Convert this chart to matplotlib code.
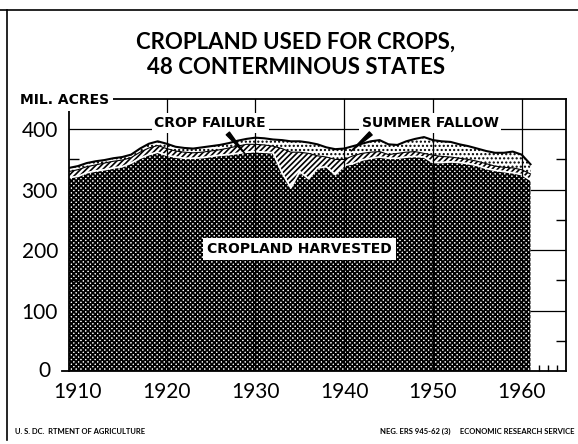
import matplotlib
matplotlib.use("Agg")
import matplotlib.pyplot as plt
from matplotlib.lines import Line2D
from matplotlib.ticker import FixedLocator

# ---------------- data (million acres) ----------------
years = list(range(1909, 1962))
harvested = [320, 322, 328, 331, 333, 336, 338, 344, 352, 358,
             362, 357, 354, 352, 352, 353, 355, 357, 358, 360,
             362, 363, 362, 361, 328, 303, 330, 318, 336, 338,
             325, 340, 343, 349, 352, 354, 352, 352, 354, 355,
             354, 345, 345, 346, 345, 343, 340, 335, 332, 330,
             328, 325, 316]
failure = [10, 11, 10, 10, 11, 11, 11, 9, 10, 11,
           11, 11, 10, 10, 9, 9, 9, 9, 11, 12,
           13, 12, 12, 11, 40, 59, 32, 42, 20, 16,
           25, 10, 13, 11, 10, 9, 6, 8, 8, 8,
           6, 12, 10, 8, 7, 7, 7, 8, 7, 7,
           8, 8, 10]
fallow = [6, 6, 6, 6, 5, 5, 5, 5, 6, 7,
          7, 8, 7, 7, 7, 8, 8, 8, 8, 9,
          9, 11, 11, 11, 14, 18, 18, 18, 19, 16,
          17, 18, 16, 16, 18, 19, 17, 14, 18, 21,
          27, 25, 25, 25, 23, 22, 21, 21, 22, 24,
          27, 25, 16]

y_ticks = [100, 200, 300, 400]
x_ticks = [1910, 1920, 1930, 1940, 1950, 1960]
x_tick_labels = ["1910", "1920", "1930", "1940", "1950", "1960"]
grid_years = [1920, 1930, 1940, 1950, 1960]

top_fail = [h + f for h, f in zip(harvested, failure)]
total = [a + s for a, s in zip(top_fail, fallow)]

# ---------------- figure ----------------
plt.rcParams["font.family"] = ["Lato", "DejaVu Sans"]
LBL = ["DejaVu Sans"]

W, H = 578, 444
fig = plt.figure(figsize=(W / 100, H / 100), dpi=100)
ax = fig.add_axes([69 / W, 1 - 371 / H, (566 - 69) / W, (371 - 99) / H])
ax.set_xlim(1909, 1965)
ax.set_ylim(0, 450)

# gridlines
for v in y_ticks:
    ax.axhline(v, color="black", lw=0.9, zorder=0.5)
for yr in grid_years:
    ax.axvline(yr, color="black", lw=0.9, zorder=3.5)

# layers
plt.rcParams["hatch.linewidth"] = 1.3
ax.fill_between(years, 0, harvested, facecolor="white", edgecolor="black",
                hatch="x" * 7, lw=0, zorder=1)
plt.rcParams["hatch.linewidth"] = 1.2
ax.fill_between(years, harvested, top_fail, facecolor="white", edgecolor="black",
                hatch="/" * 6, lw=0, zorder=1)
plt.rcParams["hatch.linewidth"] = 1.0
ax.fill_between(years, top_fail, total, facecolor="white", edgecolor="black",
                hatch="....", lw=0, zorder=1)

ax.plot(years, harvested, color="white", lw=1.3, zorder=2)
ax.plot(years, top_fail, color="black", lw=0.8, zorder=2)
ax.plot(years, total, color="black", lw=1.5, zorder=2)

# spines & ticks
for s in ax.spines.values():
    s.set_linewidth(1.3)
ax.set_yticks(y_ticks)
ax.set_xticks(x_ticks)
ax.set_xticklabels(x_tick_labels)
ax.yaxis.set_minor_locator(FixedLocator([50, 150, 250, 350]))
ax.xaxis.set_minor_locator(FixedLocator([1962, 1963, 1964]))
ax.tick_params(which="major", length=0, labelsize=15, pad=8)
ax.tick_params(axis="y", which="minor", direction="in", length=7, width=1,
               left=True, right=True)
ax.tick_params(axis="x", which="minor", direction="in", length=4, width=1,
               bottom=True, top=False)
ax.plot([-0.015, 0], [0, 0], transform=ax.transAxes, color="black", lw=1.3,
        clip_on=False)
ax.text(-0.038, 0, "0", transform=ax.get_yaxis_transform(), ha="right",
        va="center", fontsize=15)

# labels
box = dict(facecolor="white", edgecolor="none", pad=2)
ax.text(1924.9, 410, "CROP FAILURE", ha="center", va="center", fontsize=10,
        family=LBL, fontweight="bold", bbox=box, zorder=6)
ax.text(1949.7, 410, "SUMMER FALLOW", ha="center", va="center", fontsize=10,
        family=LBL, fontweight="bold", bbox=box, zorder=6)
ax.text(1935.0, 202, "CROPLAND HARVESTED", ha="center", va="center",
        fontsize=10, family=LBL, fontweight="bold",
        bbox=dict(facecolor="white", edgecolor="none", pad=3), zorder=6)
ax.annotate("", xy=(1928.8, 360), xytext=(1926.9, 393),
            arrowprops=dict(arrowstyle="wedge,tail_width=0.3",
                            color="black", shrinkA=0, shrinkB=0), zorder=6)
ax.annotate("", xy=(1940.8, 364), xytext=(1943.0, 393),
            arrowprops=dict(arrowstyle="wedge,tail_width=0.3",
                            color="black", shrinkA=0, shrinkB=0), zorder=6)

fig.text(20 / W, 1 - 100 / H, "MIL. ACRES", ha="left", va="center",
         fontsize=10, family=LBL, fontweight="bold",
         bbox=dict(facecolor="white", edgecolor="none", pad=3))

fig.text(296 / W, 1 - 42 / H, "CROPLAND USED FOR CROPS,", ha="center",
         va="center", fontsize=16, fontweight="bold")
fig.text(296 / W, 1 - 68 / H, "48 CONTERMINOUS STATES", ha="center",
         va="center", fontsize=16, fontweight="bold")

fig.text(15 / W, 1 - 431 / H, "U. S. DC.  RTMENT OF AGRICULTURE", ha="left",
         va="center", fontsize=5.5, fontweight="bold")
fig.text(575 / W, 1 - 431 / H,
         "NEG. ERS 945-62 (3)     ECONOMIC RESEARCH SERVICE", ha="right",
         va="center", fontsize=5.5, fontweight="bold")

# outer frame lines
fig.add_artist(Line2D([0, 1], [1 - 10 / H, 1 - 10 / H],
                      transform=fig.transFigure, color="black", lw=1.2))
fig.add_artist(Line2D([7 / W, 7 / W], [1 - 10 / H, 1 - 440 / H],
                      transform=fig.transFigure, color="black", lw=1.2))

fig.savefig("out.png", dpi=100, facecolor="white")
